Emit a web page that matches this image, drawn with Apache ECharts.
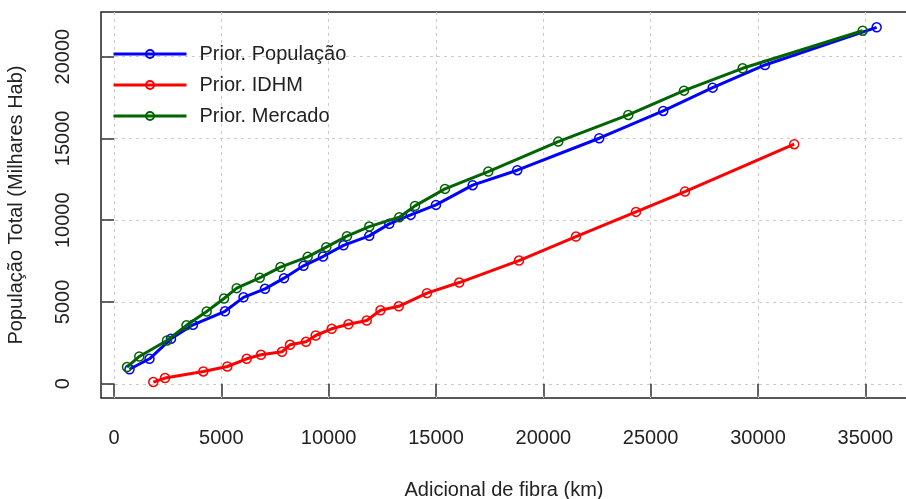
<!DOCTYPE html>
<html>
<head>
<meta charset="utf-8">
<script src="https://cdn.jsdelivr.net/npm/echarts@6/dist/echarts.min.js"></script>
<style>
  html, body { margin: 0; padding: 0; background: #fff; }
  #chart { width: 906px; height: 499px; }
</style>
</head>
<body>
<div id="chart"></div>
<script>
// Adicional de fibra (km) vs População atendida (milhares de habitantes)
const seriesNames = ['Prior. População', 'Prior. IDHM', 'Prior. Mercado'];
const seriesColors = ['#0000ff', '#ff0000', '#006400'];

const popX = [722, 1654, 2655, 3680, 5170, 6032, 7034, 7919, 8827, 9735, 10690, 11892, 12824, 13820, 14999, 16708, 18786, 22605, 25586, 27888, 30324, 35527];
const popY = [886, 1528, 2750, 3605, 4430, 5285, 5805, 6458, 7210, 7778, 8462, 9043, 9776, 10326, 10937, 12141, 13057, 15012, 16680, 18104, 19491, 21794];

const idhmX = [1831, 2376, 4160, 5278, 6181, 6847, 7825, 8198, 8943, 9395, 10141, 10923, 11771, 12414, 13266, 14580, 16084, 18865, 21520, 24315, 26597, 31688];
const idhmY = [104, 348, 752, 1057, 1528, 1772, 1955, 2383, 2566, 2951, 3361, 3635, 3868, 4491, 4735, 5542, 6189, 7534, 9000, 10509, 11750, 14646];

const mercX = [606, 1178, 2469, 3377, 4318, 5124, 5715, 6787, 7756, 9023, 9889, 10853, 11892, 13289, 14021, 15418, 17435, 20696, 23956, 26551, 29285, 34875];
const mercY = [1020, 1668, 2646, 3574, 4418, 5212, 5847, 6477, 7136, 7760, 8352, 9024, 9611, 10185, 10876, 11915, 12972, 14805, 16436, 17921, 19289, 21587];

const xTicks = [0, 5000, 10000, 15000, 20000, 25000, 30000, 35000];
const yTicks = [0, 5000, 10000, 15000, 20000];

const pairs = (xs, ys) => xs.map((x, i) => [x, ys[i]]);
const seriesData = [pairs(popX, popY), pairs(idhmX, idhmY), pairs(mercX, mercY)];

const FONT = 'Liberation Sans, Arial, sans-serif';
const gridLine = { show: true, lineStyle: { color: '#cccccc', width: 1, type: [3, 4] } };
const plainNumber = v => String(v);

const chart = echarts.init(document.getElementById('chart'), null, { renderer: 'canvas' });
chart.setOption({
  animation: false,
  backgroundColor: '#ffffff',
  textStyle: { fontFamily: FONT },
  grid: {
    left: 101, right: -1, top: 12, bottom: 101,
    outerBoundsMode: 'none',
    containLabel: false,
    show: true, borderColor: '#222222', borderWidth: 1.5, backgroundColor: 'transparent'
  },
  legend: {
    orient: 'vertical',
    left: 107, top: 39,
    itemWidth: 73, itemHeight: 10, itemGap: 11,
    lineStyle: { width: 3 },
    textStyle: { fontSize: 20, color: '#222', fontFamily: FONT, padding: [0, 0, 0, 8] },
    data: seriesNames
  },
  xAxis: {
    type: 'value',
    min: -606, max: 36941,
    name: 'Adicional de fibra (km)',
    nameLocation: 'middle', nameGap: 82,
    nameTextStyle: { fontSize: 20, color: '#222', fontFamily: FONT },
    axisLine: { show: false },
    axisTick: { show: true, inside: false, length: 13, customValues: xTicks, lineStyle: { color: '#333', width: 1.5 } },
    axisLabel: { customValues: xTicks, formatter: plainNumber, margin: 30, fontSize: 20, color: '#222', fontFamily: FONT },
    splitLine: gridLine
  },
  yAxis: {
    type: 'value',
    min: -870, max: 22730,
    name: 'População Total (Milhares Hab)',
    nameLocation: 'middle', nameGap: 75,
    nameTextStyle: { fontSize: 20, color: '#222', fontFamily: FONT },
    axisLine: { show: false },
    axisTick: { show: true, inside: false, length: 13, customValues: yTicks, lineStyle: { color: '#333', width: 1.5 } },
    axisLabel: { customValues: yTicks, formatter: plainNumber, rotate: 90, margin: 28, fontSize: 20, color: '#222', fontFamily: FONT },
    splitLine: gridLine
  },
  series: seriesNames.map((name, i) => ({
    name: name,
    type: 'line',
    data: seriesData[i],
    symbol: 'circle',
    symbolSize: 9,
    showAllSymbol: true,
    lineStyle: { color: seriesColors[i], width: 3 },
    itemStyle: { color: 'rgba(0,0,0,0)', borderColor: seriesColors[i], borderWidth: 1.5 },
    emphasis: { disabled: true },
    z: 2 + i
  }))
});
</script>
</body>
</html>
